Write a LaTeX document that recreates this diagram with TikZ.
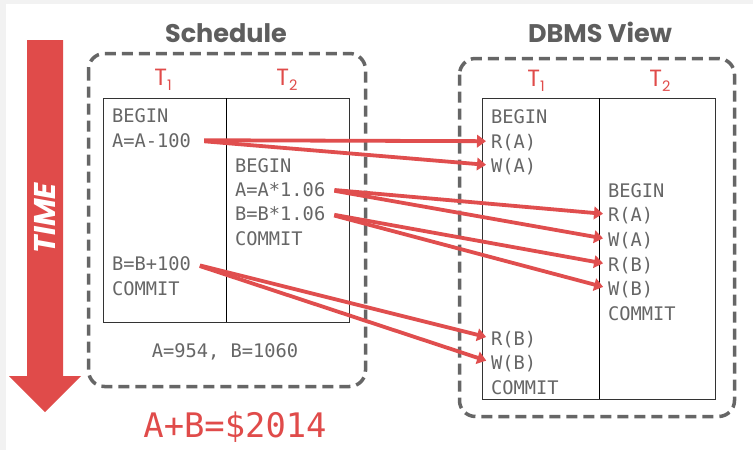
\documentclass[tikz,border=0pt]{standalone}
\usepackage{fontspec}
\usetikzlibrary{arrows.meta}
\newfontfamily\monof{DejaVu Sans Mono}
\newfontfamily\titlef{Poppins}
\definecolor{txtgrey}{HTML}{666666}
\definecolor{titlegrey}{HTML}{5E5E5E}
\definecolor{boxgrey}{HTML}{666666}
\definecolor{accent}{HTML}{E04B4A}
\definecolor{arrowred}{HTML}{E04E4E}
\definecolor{tblc}{HTML}{333333}
\definecolor{bgg}{HTML}{F2F2F2}
\newcommand\Tlab[1]{{\titlef\fontsize{23.5}{23.5}\selectfont T\raisebox{-5pt}{\fontsize{14.5}{14.5}\selectfont #1}}}
\tikzset{
 code/.style={font=\monof\fontsize{18.7}{20}\selectfont, text=txtgrey, anchor=base west, inner sep=0pt, text height=13.6pt, text depth=0pt},
 title/.style={font=\titlef\bfseries\fontsize{25.5}{28}\selectfont, text=titlegrey, anchor=base, inner sep=0pt},
 tlabel/.style={text=accent, anchor=base, inner sep=0pt},
 dashbox/.style={draw=boxgrey, line width=3.5pt, dash pattern=on 11pt off 6pt, rounded corners=16pt},
 tbl/.style={draw=tblc, line width=1pt},
 flow/.style={draw=arrowred, line width=3.8pt, -{Triangle[length=9pt,width=12.5pt]}, shorten <=9pt, shorten >=5pt},
}
\begin{document}
\begin{tikzpicture}[x=1pt,y=-1pt]
\useasboundingbox (0,0) rectangle (753,450);
\fill[bgg] (0,0) rectangle (753,450);
\fill[white] (6,4) rectangle (753,450);

% TIME arrow
\fill[accent] (27,40) -- (63,40) -- (63,376) -- (81,376) -- (45,412) -- (9,376) -- (27,376) -- cycle;
\node[rotate=90, text=white, font=\titlef\bfseries\itshape\fontsize{30}{30}\selectfont, inner sep=0pt] (time) at (45,218) {TIME};

% Schedule
\node[title] (schedT) at (226,42) {Schedule};
\draw[dashbox] (88.5,53.5) rectangle (365.5,386.5);
\node[tlabel] (s1) at (163,85) {\Tlab{1}};
\node[tlabel] (s2) at (287,85) {\Tlab{2}};
\draw[tbl] (103,98) rectangle (349,322);
\draw[draw=black, line width=1pt] (226,98) -- (226,322);

\node[code] (sb1) at (112,122) {BEGIN};
\node[code] (sa) at (112,147) {A=A-100};
\node[code] (sb2) at (235,172) {BEGIN};
\node[code] (sam) at (235,196) {A=A*1.06};
\node[code] (sbm) at (235,220) {B=B*1.06};
\node[code] (sc2) at (235,245) {COMMIT};
\node[code] (sbp) at (112,270) {B=B+100};
\node[code] (sc1) at (112,295) {COMMIT};
\node[code, anchor=base] (res) at (225,357) {A=954, B=1060};
\node[anchor=base, inner sep=0pt, text=accent, font=\monof\fontsize{33.8}{36}\selectfont] (sum) at (235,437) {A+B=\$2014};

% DBMS view
\node[title] (dbmsT) at (600,42) {DBMS View};
\draw[dashbox] (459.5,58.5) rectangle (734.5,416.5);
\node[tlabel] (d1) at (536,86) {\Tlab{1}};
\node[tlabel] (d2) at (660,86) {\Tlab{2}};
\draw[tbl] (482,98) rectangle (715,399);
\draw[draw=black, line width=1pt] (599,98) -- (599,399);

\node[code] (db1) at (491,123) {BEGIN};
\node[code] (dra1) at (491,148) {R(A)};
\node[code] (dwa1) at (491,172) {W(A)};
\node[code] (db2) at (608,197) {BEGIN};
\node[code] (dra2) at (608,221) {R(A)};
\node[code] (dwa2) at (608,246) {W(A)};
\node[code] (drb2) at (608,271) {R(B)};
\node[code] (dwb2) at (608,295) {W(B)};
\node[code] (dc2) at (608,320) {COMMIT};
\node[code] (drb1) at (491,345) {R(B)};
\node[code] (dwb1) at (491,369) {W(B)};
\node[code] (dc1) at (491,394) {COMMIT};

% arrows
\draw[flow, shorten <=13pt] (sa.east) -- (dra1.west);
\draw[flow, shorten <=13pt] (sa.east) -- (dwa1.west);
\draw[flow] (sam.east) -- (dra2.west);
\draw[flow] (sam.east) -- (dwa2.west);
\draw[flow] (sbm.east) -- (drb2.west);
\draw[flow] (sbm.east) -- (dwb2.west);
\draw[flow] (sbp.east) -- (drb1.west);
\draw[flow] (sbp.east) -- (dwb1.west);
\end{tikzpicture}
\end{document}
